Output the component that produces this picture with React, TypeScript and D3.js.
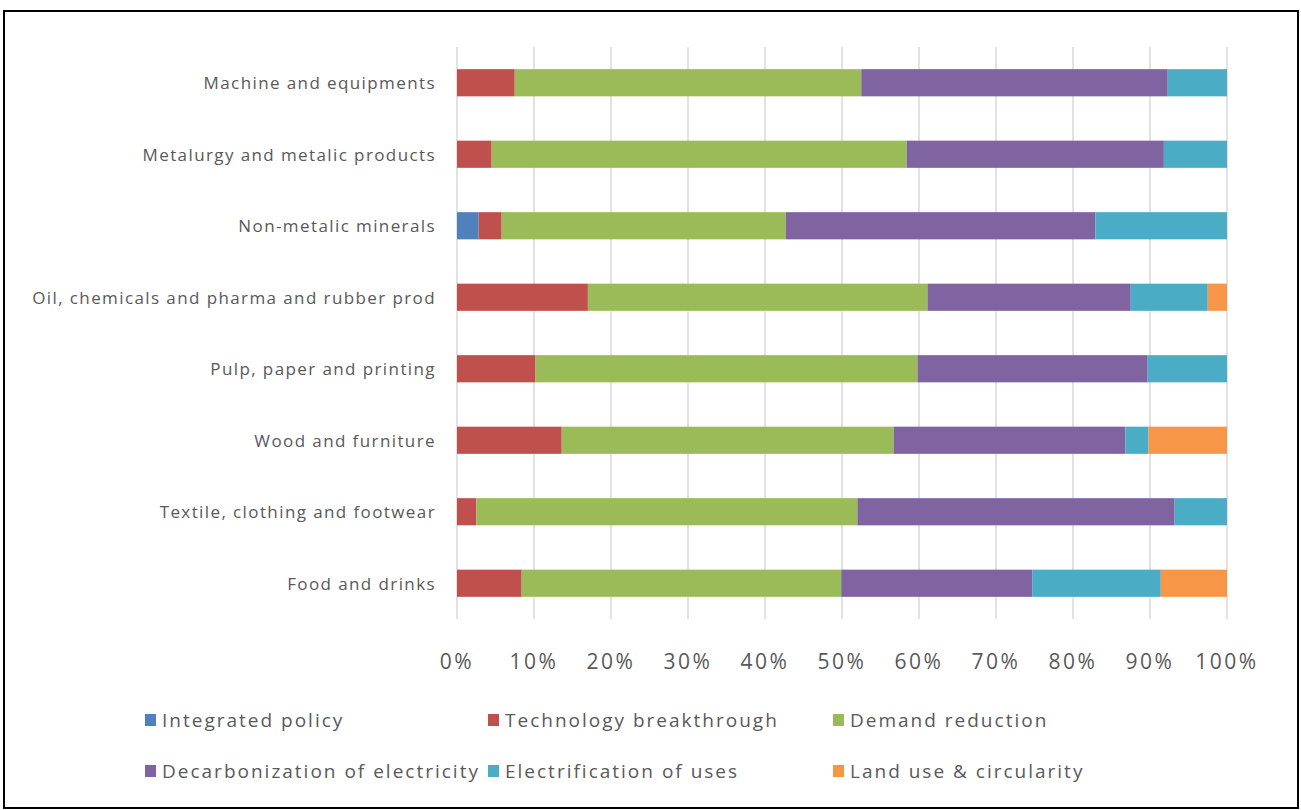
import React from "react";
import * as d3 from "d3";

const categories = [
  "Machine and equipments",
  "Metalurgy and metalic products",
  "Non-metalic minerals",
  "Oil, chemicals and pharma and rubber prod",
  "Pulp, paper and printing",
  "Wood and furniture",
  "Textile, clothing and footwear",
  "Food and drinks",
];

const seriesNames = [
  "Integrated policy",
  "Technology breakthrough",
  "Demand reduction",
  "Decarbonization of electricity",
  "Electrification of uses",
  "Land use & circularity",
];

const seriesColors = ["#4F81BD", "#C0504D", "#9BBB59", "#8064A2", "#4BACC6", "#F79646"];

const integratedPolicy = [0, 0, 2.8, 0, 0, 0, 0, 0];
const technologyBreakthrough = [7.5, 4.5, 3.0, 17.0, 10.2, 13.6, 2.5, 8.4];
const demandReduction = [45.0, 53.9, 36.9, 44.1, 49.6, 43.1, 49.5, 41.5];
const decarbonization = [39.8, 33.4, 40.2, 26.4, 29.9, 30.1, 41.2, 24.8];
const electrification = [7.7, 8.2, 17.1, 10.0, 10.3, 3.0, 6.8, 16.7];
const landUse = [0, 0, 0, 2.5, 0, 10.2, 0, 8.6];

const tickValues = [0, 0.1, 0.2, 0.3, 0.4, 0.5, 0.6, 0.7, 0.8, 0.9, 1.0];

const W = 1301;
const H = 810;
const plot = { left: 457, right: 1227, top: 47, bottom: 619 };
const FONT = "'Open Sans', 'DejaVu Sans', sans-serif";
const TEXT = "#595959";

export default function App() {
  const seriesValues = [
    integratedPolicy,
    technologyBreakthrough,
    demandReduction,
    decarbonization,
    electrification,
    landUse,
  ];
  const rows = categories.map((c, i) => {
    const r: any = { category: c };
    seriesNames.forEach((s, j) => (r[s] = seriesValues[j][i]));
    return r;
  });
  const stacked = d3
    .stack<any>()
    .keys(seriesNames)
    .offset(d3.stackOffsetExpand)(rows);

  const x = d3.scaleLinear().domain([0, 1]).range([plot.left, plot.right]);
  const y = d3
    .scaleBand<string>()
    .domain(categories)
    .range([plot.top, plot.bottom])
    .paddingInner(0.62)
    .paddingOuter(0.31);

  const fmt = d3.format(".0%");

  const legendCols = [145, 488, 833];
  const legendRows = [720, 771];

  return (
    <div style={{ position: "absolute", left: 0, top: 0 }}>
      <svg width={W} height={H} style={{ display: "block" }}>
        <rect x={0} y={0} width={W} height={H} fill="#fff" />
        <rect x={4} y={11} width={1294} height={797} fill="#fff" stroke="#000" strokeWidth={2} />
        {tickValues.map((t) => (
          <line
            key={"g" + t}
            x1={x(t)}
            x2={x(t)}
            y1={plot.top}
            y2={plot.bottom}
            stroke="#d9d9d9"
            strokeWidth={1.5}
          />
        ))}
        {stacked.map((s, si) => (
          <g key={s.key} fill={seriesColors[si]}>
            {s.map((d, i) =>
              d[1] - d[0] > 0 ? (
                <rect
                  key={i}
                  x={x(d[0])}
                  y={y(categories[i])}
                  width={x(d[1]) - x(d[0])}
                  height={y.bandwidth()}
                />
              ) : null
            )}
          </g>
        ))}
        {categories.map((c) => (
          <text
            key={c}
            x={436}
            y={(y(c) as number) + y.bandwidth() / 2}
            textAnchor="end"
            dominantBaseline="central"
            fontFamily={FONT}
            fontSize={17}
            letterSpacing={1.4}
            fill={TEXT}
          >
            {c}
          </text>
        ))}
        {tickValues.map((t) => (
          <text
            key={"t" + t}
            x={x(t)}
            y={661}
            textAnchor="middle"
            dominantBaseline="central"
            fontFamily={FONT}
            fontSize={21}
            letterSpacing={2.5}
            fill={TEXT}
          >
            {fmt(t)}
          </text>
        ))}
        {seriesNames.map((s, i) => {
          const lx = legendCols[i % 3];
          const ly = legendRows[Math.floor(i / 3)];
          return (
            <g key={s}>
              <rect x={lx} y={ly - 6} width={11} height={12} fill={seriesColors[i]} />
              <text
                x={lx + 17}
                y={ly}
                dominantBaseline="central"
                fontFamily={FONT}
                fontSize={19}
                letterSpacing={2.0}
                fill={TEXT}
              >
                {s}
              </text>
            </g>
          );
        })}
      </svg>
    </div>
  );
}
